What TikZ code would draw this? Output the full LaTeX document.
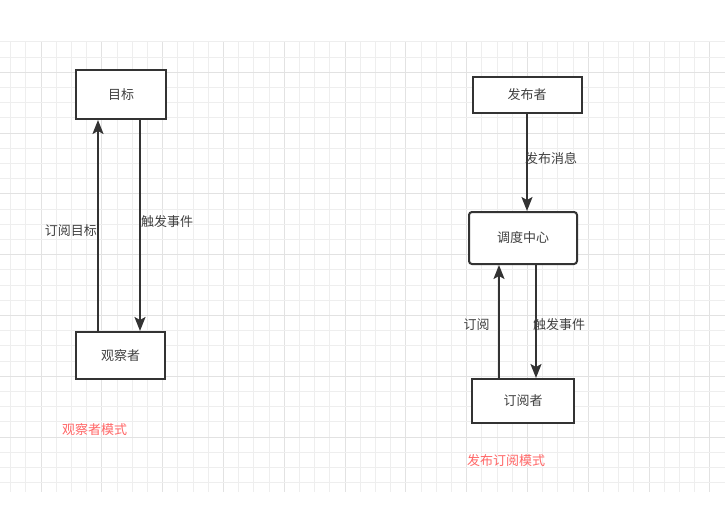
\documentclass[tikz,border=0pt]{standalone}
\usepackage{fontspec}
\newfontfamily\cjk{Noto Sans CJK SC}
\usetikzlibrary{arrows.meta}
\definecolor{boxc}{HTML}{333333}
\definecolor{txtc}{HTML}{404040}
\definecolor{redc}{HTML}{FF6666}
\definecolor{gridminor}{HTML}{EEEEEE}
\definecolor{gridmajor}{HTML}{E2E2E2}
\tikzset{
  box/.style={draw=boxc, line width=2pt, fill=white, inner sep=0pt, text=txtc,
    font=\cjk\fontsize{13}{15}\selectfont},
  arr/.style={draw=boxc, line width=1.8pt, -{Stealth[length=14pt,width=11pt,inset=3pt]}},
  lbl/.style={inner sep=0pt, text=txtc, font=\cjk\fontsize{13}{15}\selectfont},
  redlbl/.style={inner sep=0pt, text=redc, font=\cjk\fontsize{13}{15}\selectfont},
  minorline/.style={draw=gridminor, line width=1pt},
  majorline/.style={draw=gridmajor, line width=1pt}
}
\begin{document}
\begin{tikzpicture}[x=1pt,y=-1pt]
\useasboundingbox[fill=white] (0,0) rectangle (725,507);
% grid
\foreach \k in {0,...,46}{
  \pgfmathsetmacro\xx{10.7+15.2*\k}
  \pgfmathtruncatemacro\m{mod(\k,4)}
  \ifnum\m=2 \draw[majorline] (\xx,42) -- (\xx,492);
  \else \draw[minorline] (\xx,42) -- (\xx,492); \fi
}
\foreach \k in {0,...,29}{
  \pgfmathsetmacro\yy{41.9+15.2*\k}
  \pgfmathtruncatemacro\m{mod(\k,4)}
  \ifnum\m=2 \draw[majorline] (0,\yy) -- (725,\yy);
  \else \draw[minorline] (0,\yy) -- (725,\yy); \fi
}
% left: observer pattern
\node[box, minimum width=90pt, minimum height=49pt] (tgt) at (121,94.5) {目标};
\node[box, minimum width=89pt, minimum height=47pt] (obs) at (120.5,355.5) {观察者};
\draw[arr] ([xshift=-22.5pt]obs.north) -- ([xshift=-23pt]tgt.south);
\draw[arr] ([xshift=19pt]tgt.south) -- ([xshift=19.5pt]obs.north);
\node[lbl, anchor=east] (l1) at (97,231) {订阅目标};
\node[lbl, anchor=west] (l2) at (141,222) {触发事件};
\node[redlbl, anchor=west] (r1) at (62,430) {观察者模式};
% right: publish-subscribe pattern
\node[box, minimum width=109pt, minimum height=36pt] (pub) at (527,95) {发布者};
\node[box, rounded corners=3pt, minimum width=108pt, minimum height=52pt] (hub) at (523,238) {调度中心};
\node[box, minimum width=102pt, minimum height=44pt] (sub) at (523,401) {订阅者};
\draw[arr] (pub.south) -- (pub.south |- hub.north);
\draw[arr] ([xshift=-24pt]sub.north) -- ([xshift=-24pt]hub.south);
\draw[arr] ([xshift=13pt]hub.south) -- ([xshift=13pt]sub.north);
\node[lbl, anchor=west] (l3) at (525,159) {发布消息};
\node[lbl] (l4) at (476.5,325) {订阅};
\node[lbl, anchor=west] (l5) at (533,325) {触发事件};
\node[redlbl, anchor=west] (r2) at (467,461) {发布订阅模式};
\end{tikzpicture}
\end{document}
